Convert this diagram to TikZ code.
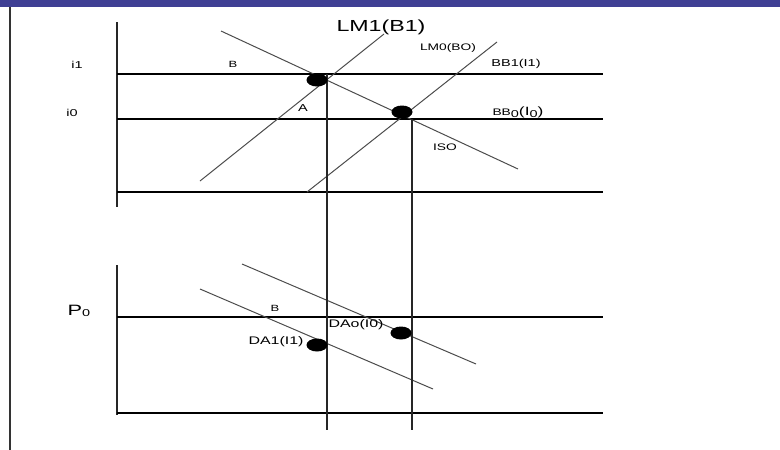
\documentclass[tikz,border=0pt]{standalone}
\usepackage{fontspec}
\setmainfont[FakeStretch=1.45]{Liberation Sans}
\usetikzlibrary{shapes.geometric}
\definecolor{barblue}{RGB}{63,63,148}
\tikzset{
    topbar/.style={fill=barblue},
    leftrule/.style={line width=2.8pt,black!80},
    axisline/.style={line width=1.9pt,black!85},
    levelline/.style={line width=1.1pt,black},
    curveline/.style={line width=1pt,black!70},
    dropline/.style={line width=1.3pt,black!85},
    eqdot/.style={ellipse,fill=black,minimum width=21pt,minimum height=13pt,inner sep=0pt},
    lbl/.style={inner sep=0pt,font=\fontsize{#1}{#1}\selectfont},
    lbl/.default=9
}
\begin{document}
\begin{tikzpicture}[x=1pt,y=-1pt]
    \useasboundingbox (0,0) rectangle (780,450);
    \fill[topbar] (0,0) rectangle (780,7);
    \coordinate (ruletop) at (10,7);
    \coordinate (rulebot) at (10,450);
    \draw[leftrule] (ruletop) -- (rulebot);

    % upper panel
    \coordinate (uaxtop) at (117,22);
    \coordinate (uaxbot) at (117,207);
    \coordinate (uorig) at (117,192);
    \coordinate (uend) at (603,192);
    \coordinate (ione0) at (117,74);
    \coordinate (ione1) at (603,74);
    \coordinate (izero0) at (117,119);
    \coordinate (izero1) at (603,119);
    \coordinate (iso0) at (221,31);
    \coordinate (iso1) at (518,169);
    \coordinate (lmone0) at (200,181);
    \coordinate (lmone1) at (384,34);
    \coordinate (lmzero0) at (307,192);
    \coordinate (lmzero1) at (497,42);
    \draw[axisline] (uaxtop) -- (uaxbot);
    \draw[levelline] (uorig) -- (uend);
    \draw[levelline] (ione0) -- (ione1);
    \draw[levelline] (izero0) -- (izero1);
    \draw[curveline] (iso0) -- (iso1);
    \draw[curveline] (lmone0) -- (lmone1);
    \draw[curveline] (lmzero0) -- (lmzero1);

    % lower panel
    \coordinate (laxtop) at (117,265);
    \coordinate (laxbot) at (117,415);
    \coordinate (lorig) at (117,413);
    \coordinate (lend) at (603,413);
    \coordinate (pzero0) at (117,317);
    \coordinate (pzero1) at (603,317);
    \coordinate (dazero0) at (242,264);
    \coordinate (dazero1) at (476,364);
    \coordinate (daone0) at (200,289);
    \coordinate (daone1) at (433,389);
    \draw[axisline] (laxtop) -- (laxbot);
    \draw[levelline] (lorig) -- (lend);
    \draw[levelline] (pzero0) -- (pzero1);
    \draw[curveline] (dazero0) -- (dazero1);
    \draw[curveline] (daone0) -- (daone1);

    % drop lines
    \coordinate (dropa0) at (327,74);
    \coordinate (dropa1) at (327,430);
    \coordinate (dropb0) at (412,119);
    \coordinate (dropb1) at (412,430);
    \draw[dropline] (dropa0) -- (dropa1);
    \draw[dropline] (dropb0) -- (dropb1);

    % equilibrium points
    \node[eqdot] (eqone) at (317,80) {};
    \node[eqdot] (eqzero) at (402,112) {};
    \node[eqdot] (daptone) at (317,345) {};
    \node[eqdot] (daptzero) at (401,333) {};

    % labels
    \node[lbl=16] (lmonelbl) at (381,27) {LM1(B1)};
    \node[lbl=9.5] (lmzerolbl) at (448,48) {LM0(BO)};
    \node[lbl=10] (bbonelbl) at (516,64) {BB1(I1)};
    \node[inner sep=0pt] (bbzerolbl) at (518,112) {\fontsize{9.5}{9.5}\selectfont BB\raisebox{-2.5pt}{\fontsize{10}{10}\selectfont 0}\fontsize{12}{12}\selectfont(I\raisebox{-2.5pt}{\fontsize{10}{10}\selectfont 0})};
    \node[lbl=9.5] (isolbl) at (445,147) {ISO};
    \node[lbl=10] (ionelbl) at (77,65) {i1};
    \node[lbl=10] (izerolbl) at (72,113) {i0};
    \node[lbl=9] (bup) at (233,64) {B};
    \node[lbl=10] (alab) at (303,108) {A};
    \node[lbl=15] (pzerolbl) at (79,311) {P\raisebox{-1pt}{\fontsize{10}{10}\selectfont 0}};
    \node[lbl=9] (blow) at (275,308) {B};
    \node[lbl=11] (daonelbl) at (276,342) {DA1(I1)};
    \node[lbl=11] (dazerolbl) at (356,325) {DAo(I0)};
\end{tikzpicture}
\end{document}
